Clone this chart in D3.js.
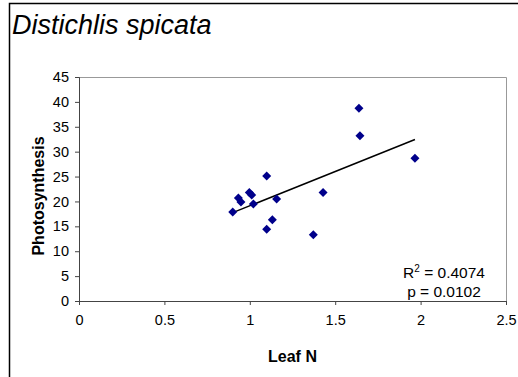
<!DOCTYPE html>
<html><head><meta charset="utf-8">
<script src="https://cdn.jsdelivr.net/npm/d3@7"></script>
<style>body{margin:0;background:#fff}svg{display:block;font-family:"Liberation Sans",Arial,sans-serif}</style>
</head><body><svg id="c" width="518" height="377"></svg>
<script>
const leafN = [0.900,0.933,0.948,0.997,1.011,1.021,1.099,1.157,1.132,1.099,1.372,1.429,1.639,1.645,1.967];
const photo = [17.9,20.7,19.9,21.8,21.3,19.5,25.1,20.5,16.3,14.4,13.3,21.8,38.7,33.2,28.7];
const xTicks = [0,0.5,1,1.5,2,2.5];
const yTicks = [0,5,10,15,20,25,30,35,40,45];
const title = "Distichlis spicata";
const statLines = ["= 0.4074","p = 0.0102"];

const svg = d3.select("#c");
const L=79,R=506,T=77,B=301;
const x = d3.scaleLinear().domain([0,2.5]).range([L,R]);
const y = d3.scaleLinear().domain([0,45]).range([B,T]);

// outer border
svg.append("path").attr("d","M9.5,377V3.5H518").attr("fill","none").attr("stroke","#000").attr("stroke-width",1.5);
svg.append("text").attr("x",12).attr("y",34).attr("font-size",27).attr("font-style","italic").text(title);

// plot frame
svg.append("path").attr("d",`M${L},${T}.5H${R}.5V${B}`).attr("fill","none").attr("stroke","#999");

const xa = svg.append("g").attr("transform",`translate(0,${B})`)
  .call(d3.axisBottom(x).tickValues(xTicks).tickFormat(d3.format("")).tickSize(4).tickPadding(10));
const ya = svg.append("g").attr("transform",`translate(${L},0)`)
  .call(d3.axisLeft(y).tickValues(yTicks).tickSize(4).tickPadding(6));
[xa,ya].forEach(g=>{g.selectAll("path,line").attr("stroke","#444");g.selectAll("text").attr("font-size",14.5).attr("fill","#000").attr("font-family","Liberation Sans, Arial, sans-serif");});

// regression line
const mx=d3.mean(leafN), my=d3.mean(photo);
const sxy=d3.sum(leafN,(d,i)=>(d-mx)*(photo[i]-my)), sxx=d3.sum(leafN,d=>(d-mx)**2);
const b=sxy/sxx, a=my-b*mx;
const [x0,x1]=d3.extent(leafN);
svg.append("line").attr("x1",x(x0)).attr("y1",y(a+b*x0)).attr("x2",x(x1)).attr("y2",y(a+b*x1)).attr("stroke","#000").attr("stroke-width",1.5);

// points
svg.append("g").selectAll("path").data(leafN).join("path")
  .attr("d",(d,i)=>`M${x(d)},${y(photo[i])-4.5}l4.5,4.5l-4.5,4.5l-4.5,-4.5z`)
  .attr("fill","#00008B");

// stats
const st = svg.append("text").attr("x",444).attr("y",278).attr("text-anchor","middle").attr("font-size",15.5);
st.append("tspan").text("R");
st.append("tspan").attr("dy",-6).attr("font-size",10).text("2");
st.append("tspan").attr("dy",6).text(" "+statLines[0]);
svg.append("text").attr("x",444).attr("y",297).attr("text-anchor","middle").attr("font-size",15.5).text(statLines[1]);

// axis titles
svg.append("text").attr("x",(L+R)/2).attr("y",362).attr("text-anchor","middle").attr("font-size",16).attr("font-weight","bold").text("Leaf N");
svg.append("text").attr("transform",`translate(44,196) rotate(-90)`).attr("text-anchor","middle").attr("font-size",16).attr("font-weight","bold").text("Photosynthesis");
</script></body></html>
